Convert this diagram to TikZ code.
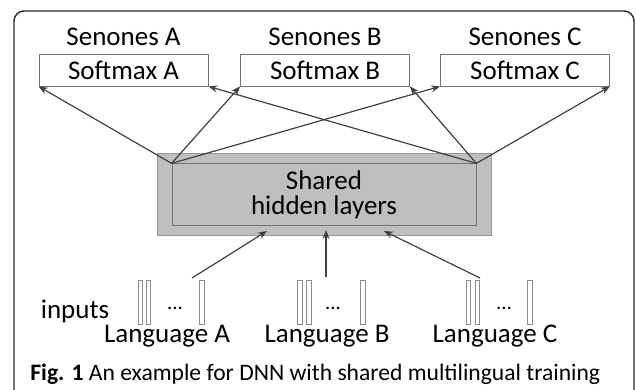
\documentclass[tikz,border=0pt]{standalone}
\usepackage{fontspec}
\setmainfont{Carlito}
\usetikzlibrary{positioning,arrows.meta}

\tikzset{
  softbox/.style={draw=black!55, fill=white, minimum width=84.5pt, minimum height=16pt, inner sep=0pt},
  bar/.style={draw=black!45, fill=white, minimum width=2.2pt, minimum height=22pt, inner sep=0pt},
  link/.style={draw=black!75, line width=0.6pt, -{Stealth[length=4.5pt,width=3.5pt]}},
  txt/.style={inner sep=0pt, font=\fontsize{13.5}{15}\selectfont},
  dots/.style={inner sep=0pt, font=\fontsize{10.5}{12}\selectfont, anchor=base},
}

\begin{document}
\begin{tikzpicture}[x=0.5pt, y=-0.5pt, font=\fontsize{13.5}{15}\selectfont]
        \useasboundingbox (0,0) rectangle (636,390);
        \clip (0,0) rectangle (636,390);

        % Draw outer frame
        \draw [rounded corners=5pt, line width=0.7pt, black!85] (14,11) rectangle (634,430);

        % Draw softmax layers with senones on top
        \node[softbox] (softA) at (123.5,70) {Softmax A};
        \node[softbox] (softB) at (325,70) {Softmax B};
        \node[softbox] (softC) at (525,70) {Softmax C};
        \node[txt, above=4pt of softA] (senA) {Senones A};
        \node[txt, above=4pt of softB] (senB) {Senones B};
        \node[txt, above=4pt of softC] (senC) {Senones C};

        % Draw shared hidden layers
        \node[draw=black!40, fill=gray!50, minimum width=167pt, minimum height=41pt] (shared) at (324,194) {};
        \node[draw=black!55, fill=gray!50, minimum width=152pt, minimum height=28.5pt,
              align=center, font=\fontsize{13.5}{12.5}\selectfont] (hidden) at (324,194.5) {Shared\\hidden layers};

        % Draw arrows up to softmax layers
        \draw[link] (hidden.north west) -- (softA.south west);
        \draw[link] (hidden.north west) -- (softB.south west);
        \draw[link] (hidden.north west) -- (softC.south west);
        \draw[link] (hidden.north east) -- (softA.south east);
        \draw[link] (hidden.north east) -- (softB.south east);
        \draw[link] (hidden.north east) -- (softC.south east);

        % Draw input vectors
        \node[bar] (barA1) at (140.5,302) {};
        \node[bar] (barA2) at (148.5,302) {};
        \node[bar] (barA3) at (202,302) {};
        \node[bar] (barB1) at (300,302) {};
        \node[bar] (barB2) at (309,302) {};
        \node[bar] (barB3) at (363,302) {};
        \node[bar] (barC1) at (468.5,302) {};
        \node[bar] (barC2) at (477.5,302) {};
        \node[bar] (barC3) at (530,302) {};
        \node[dots] (dotsA) at (175,309) {...};
        \node[dots] (dotsB) at (333,309) {...};
        \node[dots] (dotsC) at (504,309) {...};

        \node[txt, anchor=base] (inputs) at (75,318) {inputs};
        \node[txt, anchor=base] (langA) at (167,342) {Language A};
        \node[txt, anchor=base] (langB) at (327,342) {Language B};
        \node[txt, anchor=base] (langC) at (495,342) {Language C};

        % Draw arrows into shared layers
        \coordinate (inA) at (192,278);
        \coordinate (inB) at (326,277);
        \coordinate (inC) at (480,278);
        \coordinate (hidA) at (267,231);
        \coordinate (hidB) at (326,230);
        \coordinate (hidC) at (384,231);
        \draw[link] (inA) -- (hidA);
        \draw[link] (inB) -- (hidB);
        \draw[link] (inC) -- (hidC);

        % Caption
        \node[anchor=base west, inner sep=0pt, font=\fontsize{11.8}{14}\selectfont] (caption) at (30,380)
             {\textbf{Fig. 1} An example for DNN with shared multilingual training};
      \end{tikzpicture}
\end{document}
